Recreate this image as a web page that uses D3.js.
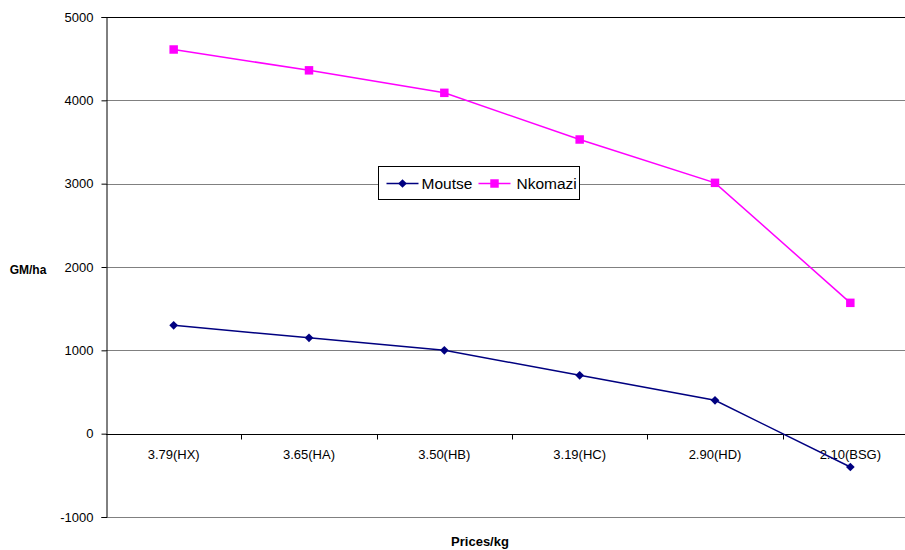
<!DOCTYPE html>
<html>
<head>
<meta charset="utf-8">
<script src="https://cdn.jsdelivr.net/npm/d3@7"></script>
<style>
  body { margin: 0; background: #fff; }
  svg { font-family: Arial, "Liberation Sans", sans-serif; }
</style>
</head>
<body>
<div id="chart"></div>
<script>
const categories = ['3.79(HX)', '3.65(HA)', '3.50(HB)', '3.19(HC)', '2.90(HD)', '2.10(BSG)'];
const moutse = [1300, 1150, 1000, 700, 400, -400];
const nkomazi = [4610, 4360, 4090, 3530, 3010, 1570];
const yTicks = [-1000, 0, 1000, 2000, 3000, 4000, 5000];

const W = 905, H = 550;
const margin = { left: 106, right: 918, top: 17, bottom: 517 };
const FONT = 'Arial, "Liberation Sans", sans-serif';

const svg = d3.select('#chart').append('svg').attr('width', W).attr('height', H);

const x = d3.scaleBand().domain(categories).range([margin.left, margin.right]);
const y = d3.scaleLinear().domain([-1000, 5000]).range([margin.bottom, margin.top]);
const py = v => Math.round(y(v)) + 0.5;

// gridlines
svg.append('g').selectAll('line').data(yTicks.filter(d => d !== 0)).enter().append('line')
    .attr('x1', margin.left).attr('x2', margin.right)
    .attr('y1', py).attr('y2', py)
    .style('stroke', d => d === 5000 ? '#000' : '#808080').style('stroke-width', 1);

// y axis
const yAxis = svg.append('g').attr('transform', `translate(${margin.left + 0.5},0)`)
    .call(d3.axisLeft(y).tickValues(yTicks).tickSize(5).tickPadding(8).tickFormat(d => String(d)));
yAxis.select('.domain').style('stroke', '#000');
yAxis.selectAll('line').style('stroke', '#000');
yAxis.selectAll('text').style('font-size', '13px').style('fill', '#000').attr('font-family', FONT);

// x axis at zero
const xAxis = svg.append('g').attr('transform', `translate(0,${py(0)})`)
    .call(d3.axisBottom(x).tickSize(0).tickPadding(15));
xAxis.select('.domain').remove();
xAxis.selectAll('text').style('font-size', '13px').style('fill', '#000').attr('font-family', FONT);
svg.append('line').attr('x1', margin.left).attr('x2', margin.right)
    .attr('y1', py(0)).attr('y2', py(0)).style('stroke', '#000');
svg.append('g').selectAll('line').data(categories.slice(1)).enter().append('line')
    .attr('x1', d => Math.round(x(d)) + 0.5).attr('x2', d => Math.round(x(d)) + 0.5)
    .attr('y1', py(0)).attr('y2', py(0) + 5).style('stroke', '#000');

const cx = (d, i) => x(categories[i]) + x.bandwidth() / 2;
const line = d3.line().x(cx).y(d => y(d));

const series = [
  { name: 'Moutse', values: moutse, color: '#000080', rot: 45, size: 38 },
  { name: 'Nkomazi', values: nkomazi, color: '#FF00FF', rot: 0, size: 72 }
];

series.forEach(s => {
  svg.append('path').datum(s.values).attr('d', line)
      .style('fill', 'none').style('stroke', s.color).style('stroke-width', 1.5);
  svg.append('g').selectAll('path').data(s.values).enter().append('path')
      .attr('d', d3.symbol(d3.symbolSquare, s.size))
      .attr('transform', (d, i) => `translate(${cx(d, i)},${y(d)}) rotate(${s.rot})`)
      .style('fill', s.color).style('stroke', 'none');
});

// legend
const lg = svg.append('g').attr('transform', 'translate(378.5,166.5)');
lg.append('rect').attr('width', 201).attr('height', 33).style('fill', '#fff').style('stroke', '#000');
const items = [{ s: series[0], x0: 8, tx: 43 }, { s: series[1], x0: 100, tx: 138 }];
items.forEach(it => {
  lg.append('line').attr('x1', it.x0).attr('x2', it.x0 + 32).attr('y1', 17).attr('y2', 17)
      .style('stroke', it.s.color).style('stroke-width', 1.5);
  lg.append('path').attr('d', d3.symbol(d3.symbolSquare, it.s.size))
      .attr('transform', `translate(${it.x0 + 16},17) rotate(${it.s.rot})`).style('fill', it.s.color);
  lg.append('text').attr('x', it.tx).attr('y', 22.5).style('font-size', '15.5px').text(it.s.name);
});

// axis titles
svg.append('text').attr('x', 28).attr('y', 274).attr('text-anchor', 'middle')
    .style('font-size', '12px').style('font-weight', 'bold').text('GM/ha');
svg.append('text').attr('x', 480).attr('y', 546).attr('text-anchor', 'middle')
    .style('font-size', '13px').style('font-weight', 'bold').text('Prices/kg');
</script>
</body>
</html>
